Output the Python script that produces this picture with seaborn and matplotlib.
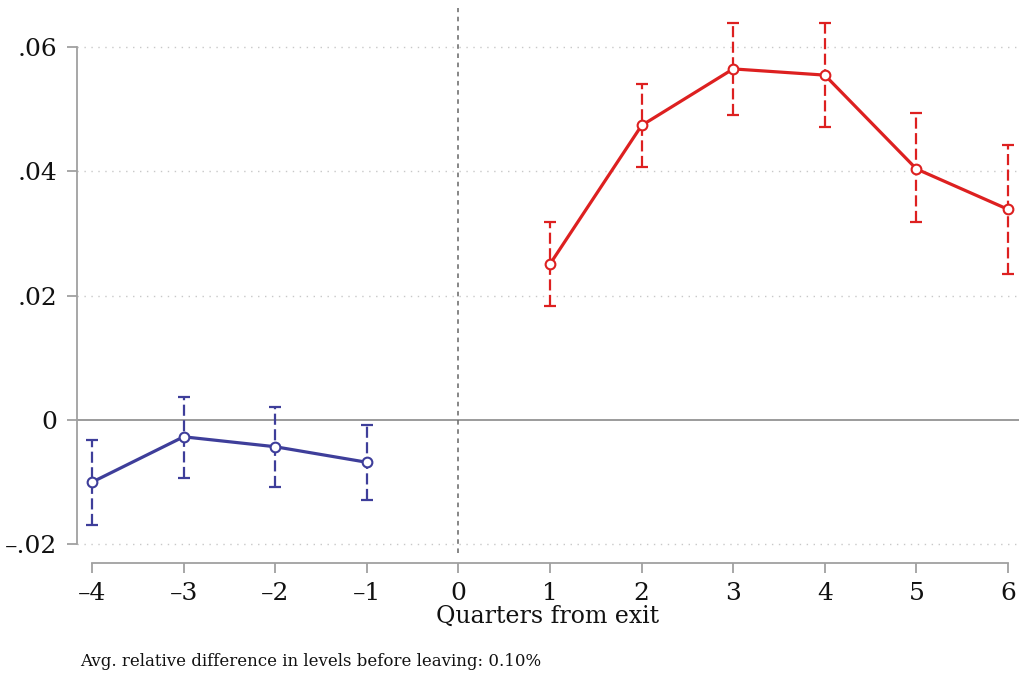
import numpy as np
import pandas as pd
import matplotlib
matplotlib.use("Agg")
import matplotlib.pyplot as plt
import seaborn as sns

# Event-study estimates by quarter relative to exit
pre_q = [-4, -3, -2, -1]
pre_est = [-0.0100, -0.0027, -0.0043, -0.0068]
pre_lo = [-0.0169, -0.0093, -0.0108, -0.0129]
pre_hi = [-0.0032, 0.0037, 0.0021, -0.0008]

post_q = [1, 2, 3, 4, 5, 6]
post_est = [0.0251, 0.0474, 0.0565, 0.0555, 0.0404, 0.0339]
post_lo = [0.0183, 0.0407, 0.0491, 0.0471, 0.0319, 0.0235]
post_hi = [0.0319, 0.0541, 0.0639, 0.0639, 0.0494, 0.0442]

y_ticks = [-0.02, 0, 0.02, 0.04, 0.06]
y_labels = ["\u2013.02", "0", ".02", ".04", ".06"]
x_ticks = [-4, -3, -2, -1, 0, 1, 2, 3, 4, 5, 6]
x_labels = [str(v).replace("-", "\u2013") for v in x_ticks]

note = "Avg. relative difference in levels before leaving: 0.10%"

BLUE = "#3e3e9a"
RED = "#dd2020"

sns.set_theme(style="white")
plt.rcParams["font.family"] = ["DejaVu Serif"]

df = pd.concat([
    pd.DataFrame({"q": pre_q, "est": pre_est, "lo": pre_lo, "hi": pre_hi, "grp": "pre"}),
    pd.DataFrame({"q": post_q, "est": post_est, "lo": post_lo, "hi": post_hi, "grp": "post"}),
], ignore_index=True)

fig = plt.figure(figsize=(10.19, 6.79), dpi=100)
ax = fig.add_axes([77 / 1019, 1 - 553 / 679, 1 - 77 / 1019, (553 - 8) / 679])

# reference lines and dotted grid
for yv in [-0.02, 0.02, 0.04, 0.06]:
    ax.axhline(yv, color="#c8c8c8", lw=1.0, ls=(0, (1, 4)), zorder=0)
ax.axhline(0, color="#8a8a8a", lw=1.2, zorder=1)
ax.axvline(0, color="#666666", lw=1.1, ls=(0, (3, 3)), zorder=1)

palette = {"pre": BLUE, "post": RED}
for grp, sub in df.groupby("grp"):
    c = palette[grp]
    eb = ax.errorbar(sub["q"], sub["est"],
                     yerr=[sub["est"] - sub["lo"], sub["hi"] - sub["est"]],
                     fmt="none", ecolor=c, elinewidth=1.6, capsize=4.5,
                     capthick=1.6, zorder=3)
    for lc in eb[2]:
        lc.set_linestyle((0, (5, 2)))

sns.lineplot(data=df, x="q", y="est", hue="grp", units="grp", estimator=None,
             palette=palette, lw=2.3, marker="o", markersize=7,
             markerfacecolor="white", markeredgewidth=1.5,
             legend=False, ax=ax, zorder=4)
for line in ax.lines:
    if line.get_marker() == "o":
        line.set_markeredgecolor(line.get_color())

ax.set_xlim(-4.164, 6.12)
ax.set_ylim(-0.0214, 0.0663)

ax.set_yticks(y_ticks)
ax.set_yticklabels(y_labels)
ax.set_xticks(x_ticks)
ax.set_xticklabels(x_labels)

for s in ["top", "right"]:
    ax.spines[s].set_visible(False)
ax.spines["left"].set_bounds(-0.02, 0.06)
ax.spines["bottom"].set_bounds(-4, 6)
ax.spines["bottom"].set_position(("outward", 7))
for s in ["left", "bottom"]:
    ax.spines[s].set_color("#a0a0a0")
    ax.spines[s].set_linewidth(1.3)

ax.tick_params(axis="both", which="major", direction="out", length=7,
               width=1.3, color="#a0a0a0", labelsize=18, labelcolor="#111111",
               bottom=True, left=True)
ax.tick_params(axis="y", pad=7)
ax.tick_params(axis="x", pad=7)

ax.set_xlabel("Quarters from exit", fontsize=17, color="#111111", labelpad=0)
ax.set_ylabel("")

fig.text(80 / 1019, 1 - 662 / 679, note, fontsize=12, color="#111111",
         ha="left", va="center")

fig.savefig("out.png", dpi=100, facecolor="white")
